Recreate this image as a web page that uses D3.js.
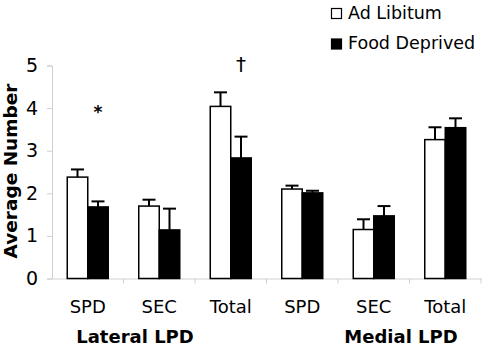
<!DOCTYPE html>
<html>
<head>
<meta charset="utf-8">
<script src="https://cdn.jsdelivr.net/npm/d3@7"></script>
<style>
body { margin: 0; background: #fff; }
text { font-family: "DejaVu Sans", Verdana, sans-serif; }
</style>
</head>
<body>
<script>
const categories = ["SPD", "SEC", "Total", "SPD ", "SEC ", "Total "];
const series = ["Ad Libitum", "Food Deprived"];
const adLib = [2.38, 1.70, 4.04, 2.10, 1.15, 3.26];
const adLibErr = [0.18, 0.15, 0.33, 0.08, 0.24, 0.29];
const foodDep = [1.68, 1.14, 2.83, 2.01, 1.47, 3.54];
const foodDepErr = [0.13, 0.50, 0.50, 0.05, 0.23, 0.22];
const yTicks = [0, 1, 2, 3, 4, 5];
const groups = ["Lateral LPD", "Medial LPD"];
const marks = [{text: "*", cat: 0, value: 4.0}, {text: "†", cat: 2, value: 5.0}];

const W = 484, H = 348;
const svg = d3.select("body").append("svg").attr("width", W).attr("height", H);

const x0 = d3.scaleBand().domain(categories).range([52, 481]).padding(0);
const x1 = d3.scaleBand().domain(series)
	.range([x0.bandwidth() / 2 - 20.5, x0.bandwidth() / 2 + 20.5]);
const y = d3.scaleLinear().domain([0, 5]).range([278.5, 65.5]);

const data = [];
categories.forEach((c, i) => {
	data.push({cat: c, s: series[0], v: adLib[i], e: adLibErr[i]});
	data.push({cat: c, s: series[1], v: foodDep[i], e: foodDepErr[i]});
});

// y axis
const yAxis = d3.axisLeft(y).tickValues(yTicks).tickSize(5).tickPadding(9).tickFormat(d3.format("d"));
const gy = svg.append("g").attr("transform", "translate(52,0)").call(yAxis);
gy.select(".domain").attr("stroke", "#d0d0d0");
gy.selectAll(".tick line").attr("stroke", "#d0d0d0");
gy.selectAll(".tick text").attr("font-size", 19).attr("fill", "#000")
	.style("font-family", "'DejaVu Sans', sans-serif");

// x axis
const xAxis = d3.axisBottom(x0).tickSize(0).tickPadding(22).tickFormat(d => d.trim());
const gx = svg.append("g").attr("transform", "translate(0," + y(0) + ")").call(xAxis);
gx.select(".domain").attr("stroke", "#d0d0d0");
gx.selectAll(".tick text").attr("font-size", 18).attr("fill", "#000")
	.style("font-family", "'DejaVu Sans', sans-serif");
// separators between categories
gx.selectAll(".sep").data(categories).enter().append("line")
	.attr("x1", d => x0(d) + x0.bandwidth()).attr("x2", d => x0(d) + x0.bandwidth())
	.attr("y1", 0).attr("y2", 5).attr("stroke", "#d0d0d0");

// bars
svg.append("g").selectAll("rect").data(data).enter().append("rect")
	.attr("x", d => x0(d.cat) + x1(d.s))
	.attr("y", d => y(d.v))
	.attr("width", x1.bandwidth())
	.attr("height", d => y(0) - y(d.v))
	.attr("fill", d => d.s === series[0] ? "#fff" : "#000")
	.attr("stroke", "#000").attr("stroke-width", 1.5);

// error bars (upper only)
const eb = svg.append("g").selectAll("g").data(data).enter().append("g")
	.attr("transform", d => "translate(" + (x0(d.cat) + x1(d.s) + x1.bandwidth() / 2) + ",0)");
eb.append("line").attr("x1", 0).attr("x2", 0)
	.attr("y1", d => y(d.v)).attr("y2", d => y(d.v + d.e))
	.attr("stroke", "#000").attr("stroke-width", 2);
eb.append("line").attr("x1", -6.5).attr("x2", 6.5)
	.attr("y1", d => y(d.v + d.e)).attr("y2", d => y(d.v + d.e))
	.attr("stroke", "#000").attr("stroke-width", 2);

// significance marks, above the food deprived bar
svg.append("g").selectAll("text").data(marks).enter().append("text")
	.attr("x", d => x0(categories[d.cat]) + x1(series[1]) + x1.bandwidth() / 2)
	.attr("y", d => y(d.value) + (d.text === "*" ? 10 : 5))
	.attr("text-anchor", "middle")
	.attr("font-size", d => d.text === "*" ? 17 : 20)
	.attr("font-weight", d => d.text === "*" ? "bold" : "normal")
	.text(d => d.text);

// group labels
const groupX = [x0(categories[1]) + 11.5, x0(categories[5]) - 8.5];
svg.append("g").selectAll("text").data(groups).enter().append("text")
	.attr("x", (d, i) => groupX[i])
	.attr("y", 342.5)
	.attr("text-anchor", "middle")
	.attr("font-size", 18).attr("font-weight", "bold")
	.text(d => d);

// y title
svg.append("text")
	.attr("transform", "translate(17,171) rotate(-90)")
	.attr("text-anchor", "middle")
	.attr("font-size", 18.5).attr("font-weight", "bold")
	.text("Average Number");

// legend
const leg = svg.append("g").selectAll("g").data(series).enter().append("g")
	.attr("transform", (d, i) => "translate(331," + (8 + i * 30.5) + ")");
leg.append("rect").attr("width", 10).attr("height", 10)
	.attr("x", 0.5).attr("y", 0.5)
	.attr("fill", (d, i) => i === 0 ? "#fff" : "#000")
	.attr("stroke", "#000").attr("stroke-width", 1.2);
leg.append("text").attr("x", 17).attr("y", 10.5)
	.attr("font-size", 17.5).text(d => d);
</script>
</body>
</html>
